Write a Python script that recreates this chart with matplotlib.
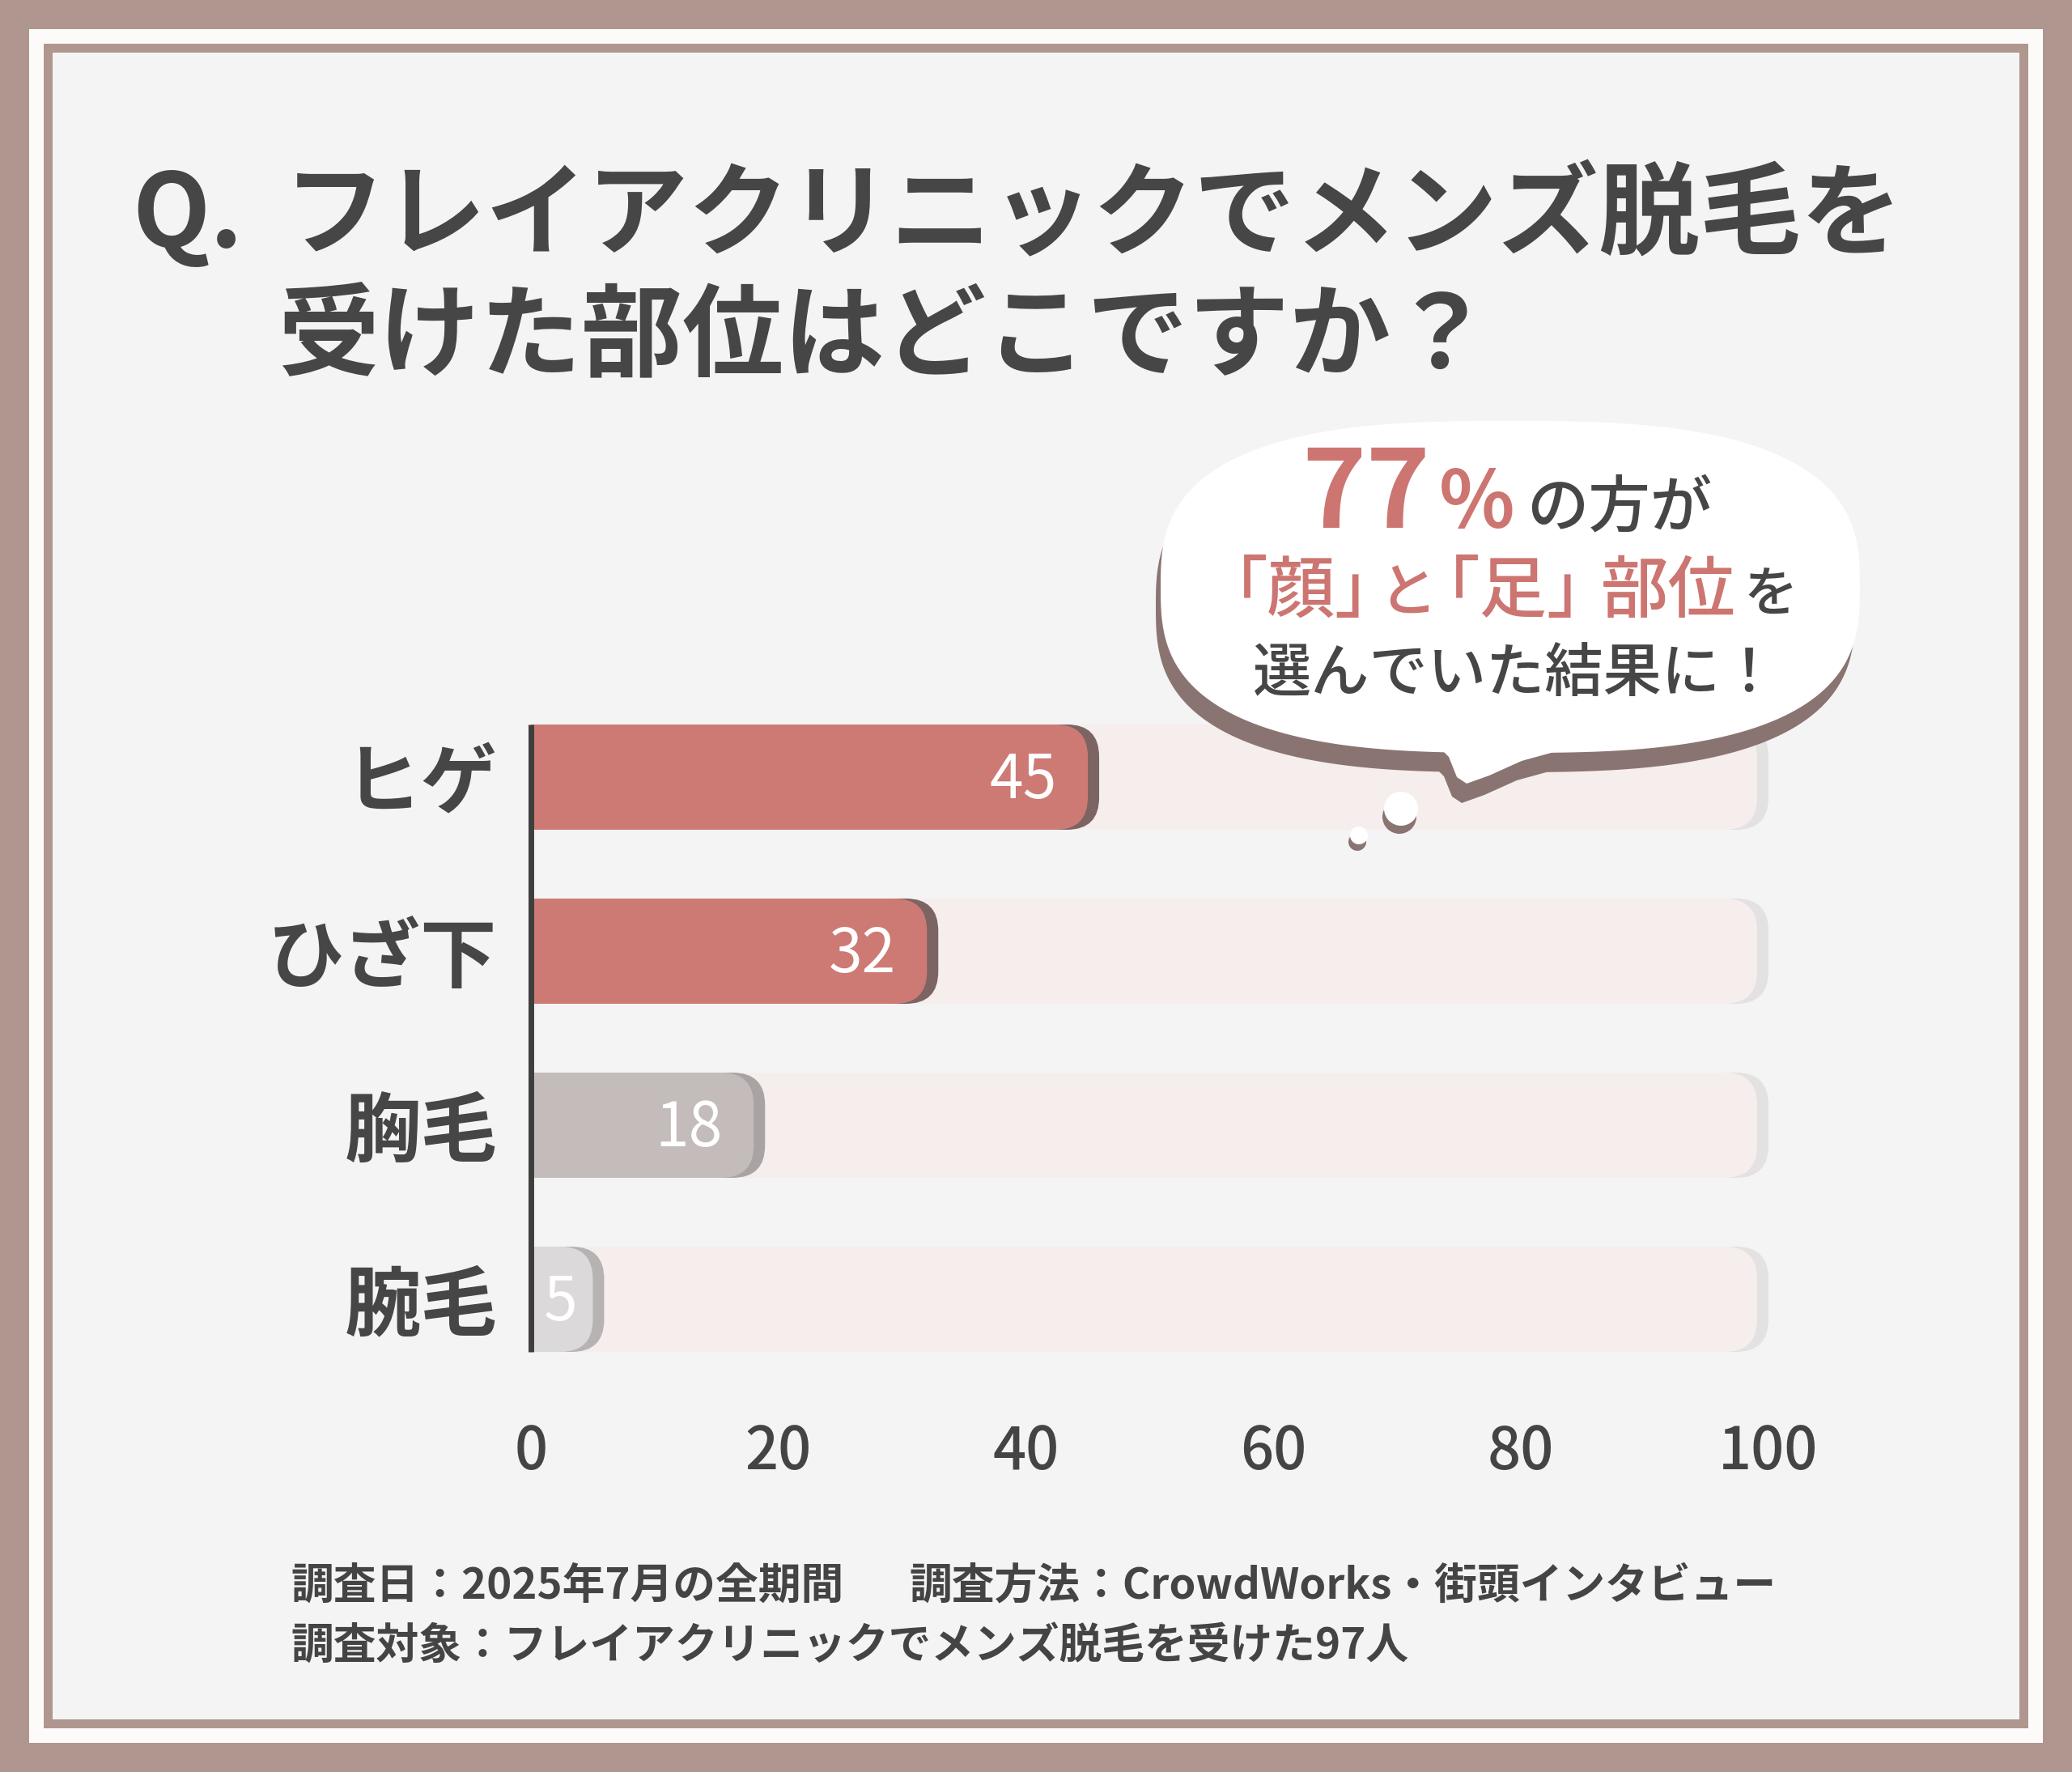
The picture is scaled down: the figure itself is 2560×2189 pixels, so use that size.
import matplotlib
matplotlib.use("Agg")
import matplotlib.pyplot as plt
import numpy as np
from matplotlib.patches import FancyBboxPatch, Rectangle, Polygon, Circle

plt.rcParams['font.family'] = ['Noto Sans CJK JP', 'DejaVu Sans']

# data
categories = ["ヒゲ", "ひざ下", "胸毛", "腕毛"]
values = [45, 32, 18, 5]
bar_colors = ["#CD7A75", "#CD7A75", "#C3BCBA", "#DCD9DA"]
shadow_colors = ["#7B6461", "#7B6461", "#A9A4A3", "#B7B3B2"]
ticks = [0, 20, 40, 60, 80, 100]
tick_labels = ["0", "20", "40", "60", "80", "100"]

title_q = "Q."
title_1 = "フレイアクリニックでメンズ脱毛を"
title_2 = "受けた部位はどこですか？"
note_1a = "調査日：2025年7月の全期間"
note_1b = "調査方法：CrowdWorks・街頭インタビュー"
note_2 = "調査対象：フレイアクリニックでメンズ脱毛を受けた97人"

W, H = 2560, 2189
fig = plt.figure(figsize=(W / 100, H / 100), dpi=100)
fig.patch.set_facecolor("#AF978F")

# frame / background
bg = fig.add_axes([0, 0, 1, 1], zorder=0)
bg.set_xlim(0, W)
bg.set_ylim(H, 0)
bg.axis("off")
bg.add_patch(Rectangle((36, 36), W - 72, 2153 - 36, fc="#FCFBFA", ec="none"))
bg.add_patch(Rectangle((54, 54), W - 108, 2135 - 54, fc="#AF978F", ec="none"))
bg.add_patch(Rectangle((65, 65), W - 130, 2124 - 65, fc="#F5F4F4", ec="none"))

dark = "#464646"
bg.text(163, 269, title_q, fontsize=90, fontweight="bold", color=dark, va="center", ha="left")
bg.text(351, 269, title_1, fontsize=90, fontweight="bold", color=dark, va="center", ha="left")
bg.text(343, 418, title_2, fontsize=90, fontweight="bold", color=dark, va="center", ha="left")

bg.text(359, 1959, note_1a, fontsize=38, fontweight="bold", color="#444444", va="center", ha="left")
bg.text(1123, 1959, note_1b, fontsize=38, fontweight="bold", color="#444444", va="center", ha="left")
bg.text(359, 2033, note_2, fontsize=38, fontweight="bold", color="#444444", va="center", ha="left")

# chart
x0, x1 = 656, 2185
y_top, y_bot = 852.5, 1712.5
ax = fig.add_axes([x0 / W, 1 - y_bot / H, (x1 - x0) / W, (y_bot - y_top) / H], zorder=2)
ax.set_facecolor("none")
n = len(categories)
ax.set_xlim(0, 100)
ax.set_ylim(n - 0.5, -0.5)
for s in ax.spines.values():
    s.set_visible(False)

px_x = (x1 - x0) / 100
px_y = (y_bot - y_top) / n
asp = px_x / px_y
bh = 130 / px_y
rs = 40 / px_x
sh = 14 / px_x


def rbar(y, value, color, z):
    ax.barh(y, value - rs, height=bh, left=0, color=color, zorder=z, linewidth=0)
    ax.add_patch(FancyBboxPatch((0, y - bh / 2), value, bh,
                                boxstyle=f"round,pad=0,rounding_size={rs}",
                                mutation_aspect=asp, fc=color, ec="none", zorder=z))


ypos = np.arange(n)
for i in range(n):
    rbar(ypos[i], 100, "#E3E1E1", 1)
    rbar(ypos[i], 100 - sh, "#F5EEEC", 2)
    rbar(ypos[i], values[i] + sh, shadow_colors[i], 3)
    rbar(ypos[i], values[i], bar_colors[i], 4)
    lx = max(values[i] - 2.5, 3.8)
    ax.text(lx, ypos[i] + 0.02, str(values[i]), color="white", fontsize=54,
            ha="right", va="center", zorder=5)

ax.plot([0, 0], [-bh / 2, n - 1 + bh / 2], color="#3E3E3E", lw=5, zorder=6,
        solid_capstyle="butt", clip_on=False)

ax.set_yticks(ypos)
ax.set_yticklabels(categories, fontsize=68, color=dark, fontweight="bold")
ax.set_xticks(ticks)
ax.set_xticklabels(tick_labels, fontsize=52, color="#444444", fontweight="medium")
ax.tick_params(axis="y", length=0, pad=30)
ax.tick_params(axis="x", length=0, pad=32)

# speech bubble
top = fig.add_axes([0, 0, 1, 1], zorder=3)
top.set_xlim(0, W)
top.set_ylim(H, 0)
top.axis("off")
top.set_facecolor("none")

t = np.linspace(0, 2 * np.pi, 400)
cx, cy, a, b, p = 1866, 725, 432, 205, 2.8
bx = cx + a * np.sign(np.cos(t)) * np.abs(np.cos(t)) ** (2 / p)
by = cy + b * np.sign(np.sin(t)) * np.abs(np.sin(t)) ** (2 / p)
tail = np.array([[1770, 915], [1790, 935], [1800, 960], [1812, 968],
                 [1840, 958], [1880, 940], [1960, 918]])
shc = "#8A7471"
top.add_patch(Polygon(np.column_stack([bx - 6, by + 24]), closed=True, fc=shc, ec="none"))
top.add_patch(Polygon(tail + [-6, 24], closed=True, fc=shc, ec="none"))
top.add_patch(Polygon(np.column_stack([bx, by]), closed=True, fc="white", ec="none"))
top.add_patch(Polygon(tail, closed=True, fc="white", ec="none"))

top.add_patch(Circle((1729, 1009), 21, fc=shc, ec="none"))
top.add_patch(Circle((1731, 999), 21, fc="white", ec="none"))
top.add_patch(Circle((1677, 1040), 11, fc=shc, ec="none"))
top.add_patch(Circle((1679, 1032), 11, fc="white", ec="none"))

red = "#CC7571"
top.text(1608, 652, "77", fontsize=97, fontweight="bold", color=red, ha="left", va="baseline")
top.text(1778, 652, "%", fontsize=70, fontweight="bold", color=red, ha="left", va="baseline")
top.text(1886, 650, "の方が", fontsize=55, fontweight="medium", color=dark, ha="left", va="baseline")

top.text(1608, 756, "｢顔｣", fontsize=60, fontweight="medium", color=red, ha="center", va="baseline")
top.text(1739, 756, "と", fontsize=52, fontweight="medium", color=red, ha="center", va="baseline")
top.text(1870, 756, "｢足｣", fontsize=60, fontweight="medium", color=red, ha="center", va="baseline")
top.text(2061, 756, "部位", fontsize=60, fontweight="medium", color=red, ha="center", va="baseline")
top.text(2188, 756, "を", fontsize=48, fontweight="medium", color=dark, ha="center", va="baseline")
top.text(1873, 833, "選んでいた結果に！", fontsize=52, fontweight="medium", color=dark,
         ha="center", va="center")

fig.savefig("out.png", dpi=100, facecolor=fig.get_facecolor())
